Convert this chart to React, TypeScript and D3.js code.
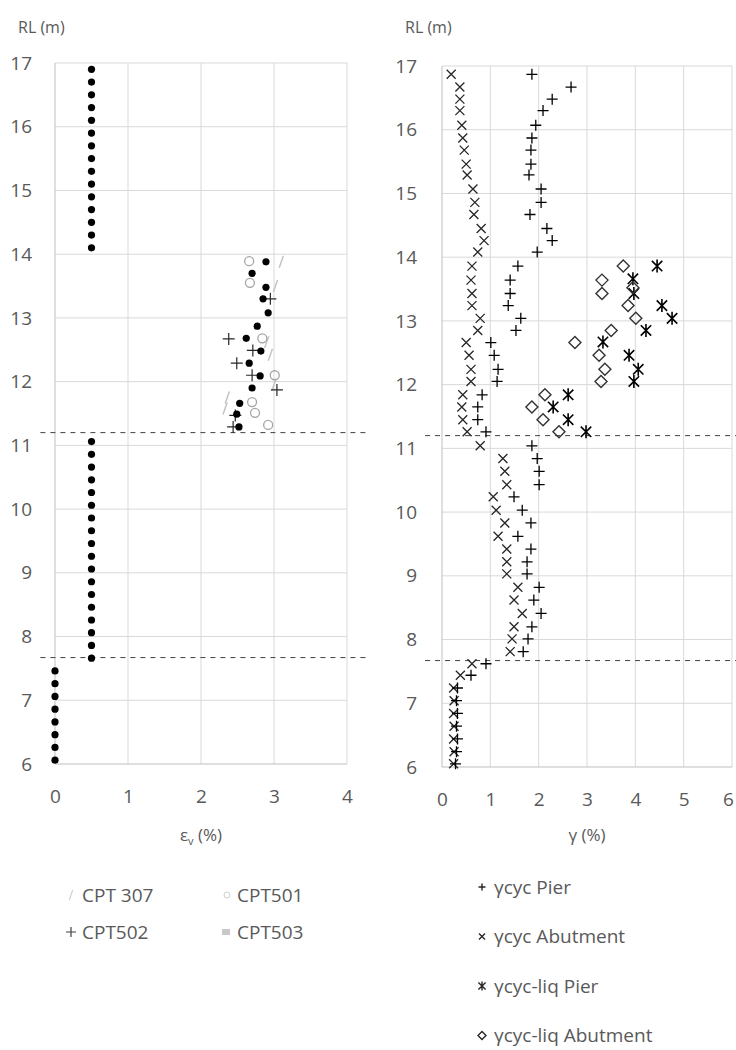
import { useRef, useEffect } from 'react'
import * as d3 from 'd3'

type Pt = [number, number]

// RL axis ticks (m), shared by both panels
const rlTicks = [6, 7, 8, 9, 10, 11, 12, 13, 14, 15, 16, 17]
const strainTicks = [0, 1, 2, 3, 4]
const shearTicks = [0, 1, 2, 3, 4, 5, 6]
// layer boundaries (RL, m) shown as dashed lines
const boundaryRL = [11.2, 7.67]

// Left panel: volumetric strain εv (%) against RL (m)
const cpt307: Pt[] = [
  [3.1, 13.88], [3.02, 13.5], [2.95, 12.42], [2.9, 12.62], [3.0, 11.95], [2.36, 11.75], [2.33, 11.58]
]
const cpt501: Pt[] = [
  [2.66, 13.89], [2.67, 13.55], [2.84, 12.68], [3.01, 12.1], [2.7, 11.68], [2.74, 11.51], [2.92, 11.32]
]
const cpt502: Pt[] = [
  [2.95, 13.3], [2.38, 12.67], [2.71, 12.49], [2.49, 12.29], [2.7, 12.1], [3.04, 11.87], [2.47, 11.47], [2.44, 11.29]
]
const cpt503: Pt[] = [
  [0.5, 16.9], [0.5, 16.7], [0.5, 16.5], [0.5, 16.3], [0.5, 16.1], [0.5, 15.9], [0.5, 15.7], [0.5, 15.5],
  [0.5, 15.3], [0.5, 15.1], [0.5, 14.9], [0.5, 14.7], [0.5, 14.5], [0.5, 14.3], [0.5, 14.1],
  [2.89, 13.88], [2.7, 13.7], [2.89, 13.48], [2.85, 13.3], [2.92, 13.08], [2.77, 12.87], [2.62, 12.68],
  [2.82, 12.48], [2.66, 12.29], [2.81, 12.09], [2.7, 11.9], [2.53, 11.66], [2.49, 11.49], [2.52, 11.29],
  [0.5, 11.06], [0.5, 10.86], [0.5, 10.66], [0.5, 10.46], [0.5, 10.26], [0.5, 10.06], [0.5, 9.86], [0.5, 9.66],
  [0.5, 9.46], [0.5, 9.26], [0.5, 9.06], [0.5, 8.86], [0.5, 8.66], [0.5, 8.46], [0.5, 8.26], [0.5, 8.06],
  [0.5, 7.86], [0.5, 7.66],
  [0, 7.46], [0, 7.26], [0, 7.06], [0, 6.86], [0, 6.66], [0, 6.46], [0, 6.26], [0, 6.06]
]

// Right panel: cyclic shear strain γ (%) against RL (m)
const rlShear = [
  16.87, 16.67, 16.48, 16.3, 16.07, 15.87, 15.68, 15.46, 15.29, 15.07, 14.86, 14.67, 14.45, 14.26, 14.08,
  13.86, 13.64, 13.43, 13.24, 13.04, 12.85, 12.66, 12.46, 12.24, 12.05, 11.84, 11.65, 11.45, 11.26, 11.04, 10.84,
  10.64, 10.43, 10.24, 10.03, 9.83, 9.62, 9.42, 9.22, 9.03, 8.82, 8.62, 8.41, 8.2, 8.01, 7.81, 7.62,
  7.44, 7.24, 7.04, 6.84, 6.64, 6.44, 6.24, 6.05
]
const gammaPier = [
  1.86, 2.67, 2.28, 2.09, 1.94, 1.86, 1.84, 1.84, 1.8, 2.05, 2.05, 1.82, 2.17, 2.28, 1.97,
  1.57, 1.41, 1.41, 1.37, 1.63, 1.53, 1.01, 1.08, 1.16, 1.14, 0.83, 0.74, 0.74, 0.91, 1.86, 1.97,
  2.01, 2.01, 1.49, 1.66, 1.84, 1.57, 1.84, 1.76, 1.76, 2.01, 1.9, 2.05, 1.86, 1.78, 1.68, 0.91,
  0.6, 0.32, 0.3, 0.32, 0.3, 0.32, 0.3, 0.28
]
const gammaAbutment = [
  0.19, 0.37, 0.37, 0.37, 0.41, 0.43, 0.46, 0.5, 0.52, 0.64, 0.68, 0.66, 0.81, 0.87, 0.74,
  0.62, 0.6, 0.62, 0.62, 0.79, 0.74, 0.5, 0.56, 0.6, 0.6, 0.43, 0.41, 0.43, 0.52, 0.79, 1.26,
  1.3, 1.34, 1.06, 1.12, 1.3, 1.16, 1.34, 1.34, 1.34, 1.57, 1.49, 1.66, 1.49, 1.45, 1.41, 0.62,
  0.38, 0.24, 0.25, 0.24, 0.25, 0.24, 0.25, 0.24
]
const rlLiq = [13.86, 13.66, 13.43, 13.24, 13.04, 12.85, 12.67, 12.46, 12.24, 12.05, 11.84, 11.65, 11.45, 11.26]
const gammaLiqPier = [4.45, 3.95, 3.97, 4.55, 4.76, 4.22, 3.33, 3.87, 4.06, 3.97, 2.61, 2.3, 2.61, 2.98]
const liqAbutment: Pt[] = [
  [3.75, 13.86], [3.31, 13.64], [3.95, 13.52], [3.31, 13.43], [3.85, 13.24], [4.01, 13.04], [3.5, 12.85],
  [2.75, 12.66], [3.25, 12.46], [3.37, 12.24], [3.29, 12.05], [2.13, 11.84], [1.86, 11.65], [2.09, 11.45], [2.42, 11.26]
]

const leftLegend = ['CPT 307', 'CPT501', 'CPT502', 'CPT503']
const rightLegend = ['γcyc Pier', 'γcyc Abutment', 'γcyc-liq Pier', 'γcyc-liq Abutment']

// marker shapes
const plus = (s: number) => `M${-s},0H${s}M0,${-s}V${s}`
const cross = (s: number) => `M${-s},${-s}L${s},${s}M${-s},${s}L${s},${-s}`
const star = (s: number) => `${cross(s * 0.8)}M0,${-s}V${s}`
const diamond = (s: number) => `M0,${-s}L${s},0L0,${s}L${-s},0Z`
const slash = (s: number) => `M${-s * 0.35},${s}L${s * 0.35},${-s}`

const TEXT = '#595959'
const GRID = '#d9d9d9'
const AXIS = '#bfbfbf'

export default function App() {
  const svgRef = useRef<SVGSVGElement>(null)

  useEffect(() => {
    if (!svgRef.current) return
    const svg = d3.select(svgRef.current)
    svg.selectAll('*').remove()

    const panel = (
      x: d3.ScaleLinear<number, number>,
      y: d3.ScaleLinear<number, number>,
      xTicks: number[],
      xLabel: (t: d3.Selection<SVGTextElement, unknown, null, undefined>) => void,
      yPad: number,
      dashExtent: [number, number]
    ) => {
      const g = svg.append('g')
      const [x0, x1] = x.range()
      const [yb, yt] = y.range()

      // grid
      g.append('g').selectAll('line.h').data(rlTicks.slice(1)).enter().append('line')
        .attr('x1', x0).attr('x2', x1)
        .attr('y1', d => y(d)).attr('y2', d => y(d))
        .attr('stroke', GRID)
      g.append('g').selectAll('line.v').data(xTicks.slice(1)).enter().append('line')
        .attr('x1', d => x(d)).attr('x2', d => x(d))
        .attr('y1', yb).attr('y2', yt)
        .attr('stroke', GRID)

      // axis lines
      g.append('line').attr('x1', x0).attr('x2', x0).attr('y1', yb).attr('y2', yt).attr('stroke', AXIS)
      g.append('line').attr('x1', x0).attr('x2', x1).attr('y1', yb).attr('y2', yb).attr('stroke', AXIS)

      // tick labels
      const yAxis = g.append('g').attr('transform', `translate(${x0},0)`)
        .call(d3.axisLeft(y).tickValues(rlTicks).tickSize(0).tickPadding(yPad).tickFormat(d3.format('d')))
      const xAxis = g.append('g').attr('transform', `translate(0,${yb})`)
        .call(d3.axisBottom(x).tickValues(xTicks).tickSize(0).tickPadding(26).tickFormat(d3.format('d')))
      for (const a of [yAxis, xAxis]) {
        a.select('.domain').remove()
        a.selectAll('text').attr('fill', TEXT).attr('font-size', 19).attr('font-family', 'Open Sans')
      }
      // keep the last x label inside the page
      xAxis.selectAll<SVGTextElement, number>('text')
        .filter(d => x(d) > 725)
        .attr('dx', -4)

      // x-axis title
      const title = g.append('text')
        .attr('x', (x0 + x1) / 2).attr('y', 841)
        .attr('text-anchor', 'middle').attr('fill', TEXT).attr('font-size', 17)
      xLabel(title)

      // RL title
      g.append('text')
        .attr('x', x0 - 37).attr('y', 33)
        .attr('fill', TEXT).attr('font-size', 16)
        .text('RL (m)')

      // layer boundaries
      g.append('g').selectAll('line').data(boundaryRL).enter().append('line')
        .attr('x1', x(dashExtent[0])).attr('x2', x(dashExtent[1]))
        .attr('y1', d => y(d)).attr('y2', d => y(d))
        .attr('stroke', '#404040').attr('stroke-dasharray', '5,5')

      return g
    }

    const markers = (
      g: d3.Selection<SVGGElement, unknown, null, undefined>,
      pts: Pt[],
      x: d3.ScaleLinear<number, number>,
      y: d3.ScaleLinear<number, number>,
      d: string,
      stroke: string,
      width: number
    ) => {
      g.append('g').selectAll('path').data(pts).enter().append('path')
        .attr('transform', p => `translate(${x(p[0])},${y(p[1])})`)
        .attr('d', d)
        .attr('fill', 'none')
        .attr('stroke', stroke)
        .attr('stroke-width', width)
    }

    // Left panel
    const xL = d3.scaleLinear().domain([0, 4]).range([55, 347])
    const yL = d3.scaleLinear().domain([6, 17]).range([764, 63])
    const gL = panel(xL, yL, strainTicks, t => {
      t.append('tspan').text('ε')
      t.append('tspan').attr('font-size', 11).attr('dy', 4).text('v')
      t.append('tspan').attr('dy', -4).text(' (%)')
    }, 23, [-0.2, 4.3])

    markers(gL, cpt307, xL, yL, slash(6), '#c4c4c4', 1.5)
    gL.append('g').selectAll('circle').data(cpt501).enter().append('circle')
      .attr('cx', p => xL(p[0])).attr('cy', p => yL(p[1])).attr('r', 4.5)
      .attr('fill', 'none').attr('stroke', '#a6a6a6').attr('stroke-width', 1.3)
    markers(gL, cpt502, xL, yL, plus(6), '#262626', 1.2)
    gL.append('g').selectAll('circle').data(cpt503).enter().append('circle')
      .attr('cx', p => xL(p[0])).attr('cy', p => yL(p[1])).attr('r', 3.6)
      .attr('fill', '#000')

    // Right panel
    const xR = d3.scaleLinear().domain([0, 6]).range([442, 732])
    const yR = d3.scaleLinear().domain([6, 17]).range([767, 66])
    const gR = panel(xR, yR, shearTicks, t => t.text('γ (%)'), 25, [-0.35, 6.1])

    const pier: Pt[] = rlShear.map((rl, i) => [gammaPier[i], rl])
    const abut: Pt[] = rlShear.map((rl, i) => [gammaAbutment[i], rl])
    const liqPier: Pt[] = rlLiq.map((rl, i) => [gammaLiqPier[i], rl])
    markers(gR, abut, xR, yR, cross(4.5), '#262626', 1.3)
    markers(gR, pier, xR, yR, plus(5.5), '#000', 1.3)
    markers(gR, liqPier, xR, yR, star(6.5), '#000', 1.6)
    markers(gR, liqAbutment, xR, yR, diamond(6), '#333', 1.4)

    // Left legend
    const legL = svg.append('g').attr('font-size', 19).attr('fill', TEXT)
    const legLShapes = [slash(5), '', plus(5), '']
    leftLegend.forEach((name, i) => {
      const lx = i % 2 === 0 ? 82 : 237
      const ly = i < 2 ? 895 : 932
      legL.append('text').attr('x', lx).attr('y', ly).attr('dy', '0.35em').text(name)
      if (i === 1) {
        legL.append('circle').attr('cx', lx - 10).attr('cy', ly).attr('r', 3)
          .attr('fill', 'none').attr('stroke', '#d0d0d0')
      } else if (i === 3) {
        legL.append('rect').attr('x', lx - 15).attr('y', ly - 3).attr('width', 8).attr('height', 6)
          .attr('fill', '#c8c8c8')
      } else {
        legL.append('path').attr('transform', `translate(${lx - 11},${ly})`).attr('d', legLShapes[i])
          .attr('fill', 'none').attr('stroke', i === 0 ? '#d0d0d0' : '#404040').attr('stroke-width', 1.2)
      }
    })

    // Right legend
    const legR = svg.append('g').attr('font-size', 19).attr('fill', TEXT)
    const legRShapes = [plus(3.5), cross(3), star(4.5), diamond(4)]
    rightLegend.forEach((name, i) => {
      const ly = 887 + i * 49.5
      legR.append('path').attr('transform', `translate(482,${ly})`).attr('d', legRShapes[i])
        .attr('fill', 'none').attr('stroke', '#262626').attr('stroke-width', 1.4)
      legR.append('text').attr('x', 494).attr('y', ly).attr('dy', '0.35em').text(name)
    })
  }, [])

  return (
    <svg
      ref={svgRef}
      width={736}
      height={1050}
      style={{ position: 'absolute', left: 0, top: 0, background: '#fff' }}
      fontFamily="Open Sans"
    />
  )
}
